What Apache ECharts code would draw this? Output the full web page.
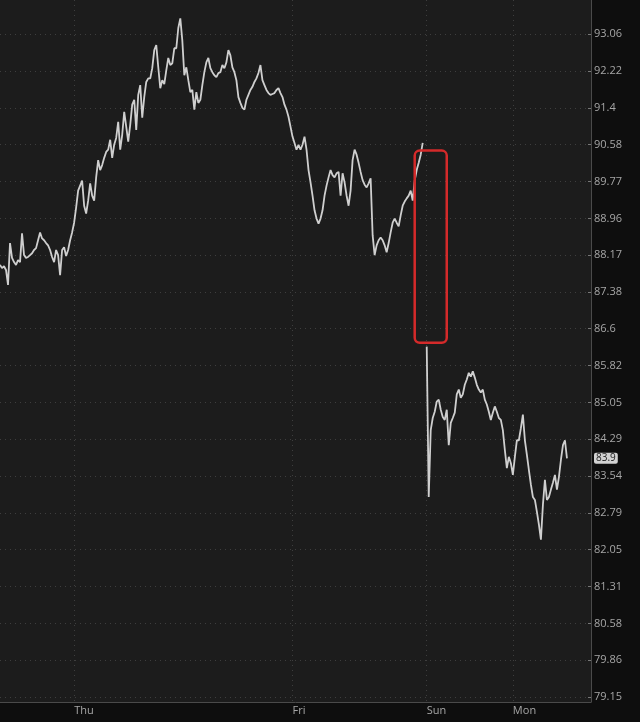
<!DOCTYPE html>
<html><head><meta charset="utf-8">
<script src="https://cdn.jsdelivr.net/npm/echarts@6/dist/echarts.min.js"></script>
<style>html,body{margin:0;padding:0;background:#0e0e0e;}#c{width:640px;height:722px;}</style>
</head><body><div id="c"></div>
<script>
// Session days and number of bars in each (as displayed)
const dayNames = ['Wed','Thu','Fri','Sun','Mon'];
const barsPerDay = [37,109,67,43,40];

// Prices Wed -> Fri close
const wedThuFriPrices = [
87.96,87.89,87.93,87.85,87.53,88.43,88.11,88.02,87.96,88.06,
88.02,88.64,88.17,88.11,88.13,88.17,88.21,88.28,88.32,88.49,
88.66,88.53,88.49,88.43,88.38,88.28,88.13,88.02,88.28,88.17,
87.74,88.28,88.34,88.15,88.28,88.49,88.66,88.87,89.20,89.57,
89.68,89.79,89.24,89.07,89.35,89.73,89.46,89.35,89.86,90.24,
90.02,90.13,90.29,90.42,90.47,90.69,90.29,90.58,90.73,91.09,
90.47,90.80,91.31,90.98,90.65,91.02,91.47,91.58,90.91,91.69,
91.91,91.18,91.64,91.98,92.06,92.06,92.29,92.70,92.81,92.31,
91.84,92.02,91.93,92.24,92.52,92.36,92.40,92.74,92.74,93.20,
93.42,92.92,92.13,92.31,92.02,91.75,91.80,91.36,91.75,91.51,
91.58,91.91,92.20,92.42,92.52,92.29,92.20,92.13,92.09,92.18,
92.20,92.36,92.29,92.42,92.70,92.58,92.31,92.20,92.02,91.64,
91.51,91.40,91.36,91.58,91.69,91.80,91.87,91.98,92.06,92.18,
92.36,92.02,91.91,91.80,91.73,91.69,91.71,91.73,91.80,91.84,
91.73,91.64,91.47,91.36,91.20,90.98,90.76,90.62,90.47,90.58,
90.47,90.58,90.76,90.47,90.02,89.75,89.46,89.14,88.96,88.85,
88.96,89.14,89.46,89.68,89.86,90.02,89.91,89.86,89.95,89.98,
89.46,89.95,89.75,89.46,89.24,89.57,90.24,90.47,90.36,90.18,
89.98,89.80,89.70,89.64,89.73,89.84,88.60,88.17,88.38,88.49,
88.55,88.49,88.38,88.23,88.43,88.66,88.87,88.96,88.87,88.79,
89.03,89.24,89.33,89.40,89.46,89.57,89.35,89.79,90.02,90.18,
90.36,90.62
];

// Prices Sun open -> Mon (after the weekend gap)
const sunMonPrices = [
86.22,83.11,84.48,84.73,84.86,85.07,85.11,84.90,84.75,84.69,
84.90,84.17,84.63,84.73,84.84,85.22,85.32,85.15,85.22,85.42,
85.53,85.67,85.59,85.70,85.57,85.42,85.32,85.26,85.32,85.11,
85.01,84.86,84.69,84.84,84.97,84.86,84.73,84.69,84.48,84.07,
83.70,83.93,83.80,83.56,83.93,84.27,84.27,84.52,84.80,84.27,
83.97,83.66,83.36,83.11,83.05,82.81,82.55,82.25,82.95,83.46,
83.05,83.11,83.26,83.40,83.56,83.26,83.52,83.87,84.17,84.27,
83.9
];

// Price axis ticks (log-spaced)
const tickValues = [79.15,79.86,80.58,81.31,82.05,82.79,83.54,84.29,85.05,85.82,86.6,87.38,88.17,88.96,89.77,90.58,91.4,92.22,93.06];
const tickLabels = ['79.15','79.86','80.58','81.31','82.05','82.79','83.54','84.29','85.05','85.82','86.6','87.38','88.17','88.96','89.77','90.58','91.4','92.22','93.06'];
const lastPriceLabel = '83.9';

// Highlight box around the weekend gap (bar indices and price bounds)
const gapBox = { fromBar: 207, toBar: 223, high: 90.45, low: 86.30 };

const categories = [];
dayNames.forEach((d, di) => { for (let k = 0; k < barsPerDay[di]; k++) categories.push(d + ' ' + k); });
const seriesData = wedThuFriPrices.concat([null], sunMonPrices);
const isDayStart = (idx, val) => idx > 0 && /\s0$/.test(val);

const chart = echarts.init(document.getElementById('c'), null, { renderer: 'canvas' });
const labelMap = {};
tickValues.forEach((v, i) => labelMap[v] = tickLabels[i]);

chart.setOption({
  backgroundColor: '#0e0e0e',
  animation: false,
  grid: { left: 0, right: 49, top: 0, bottom: 20, show: true, backgroundColor: '#1c1c1c', borderWidth: 0 },
  xAxis: {
    type: 'category', data: categories, boundaryGap: false,
    axisLine: { show: true, lineStyle: { color: '#4a4a4a', width: 1 } },
    axisTick: { show: false },
    axisLabel: {
      interval: isDayStart, formatter: v => v.split(' ')[0],
      color: '#a6a6a6', fontSize: 11, fontFamily: 'Open Sans', align: 'left', margin: 3
    },
    splitLine: { show: true, interval: isDayStart, lineStyle: { color: '#3e3e3e', type: [1, 4], width: 1 } }
  },
  yAxis: {
    type: 'log', logBase: Math.E, position: 'right', min: 79.05, max: 93.84,
    axisLine: { show: true, lineStyle: { color: '#4a4a4a', width: 1 } },
    axisTick: { show: true, inside: true, length: 3, lineStyle: { color: '#777' }, customValues: tickValues },
    axisLabel: {
      customValues: tickValues, color: '#a6a6a6', fontSize: 11, fontFamily: 'Open Sans', margin: 3,
      formatter: v => labelMap[v] !== undefined ? labelMap[v] : String(v)
    },
    splitLine: { show: true, lineStyle: { color: '#3e3e3e', type: [1, 4], width: 1 } }
  },
  series: [{
    type: 'line', data: seriesData, showSymbol: false, connectNulls: false,
    lineStyle: { color: '#cfcfcf', width: 1.8 },
    markLine: {
      silent: true, symbol: 'none',
      data: [{ yAxis: sunMonPrices[sunMonPrices.length - 1] }],
      lineStyle: { color: 'rgba(0,0,0,0)', width: 1 },
      label: { show: true, position: 'end', formatter: lastPriceLabel, color: '#222', backgroundColor: '#d2d2d2',
               padding: [1, 2, 0, 2], borderRadius: 2, fontSize: 10, fontFamily: 'Open Sans', distance: 3 }
    }
  }]
});

const tl = chart.convertToPixel({ gridIndex: 0 }, [gapBox.fromBar, gapBox.high]);
const br = chart.convertToPixel({ gridIndex: 0 }, [gapBox.toBar, gapBox.low]);
chart.setOption({
  graphic: [{
    type: 'rect', z: 100,
    shape: { x: tl[0], y: tl[1], width: br[0] - tl[0], height: br[1] - tl[1], r: 5 },
    style: { fill: 'none', stroke: '#d42a2a', lineWidth: 2.5 }
  }]
});
</script>
</body></html>
